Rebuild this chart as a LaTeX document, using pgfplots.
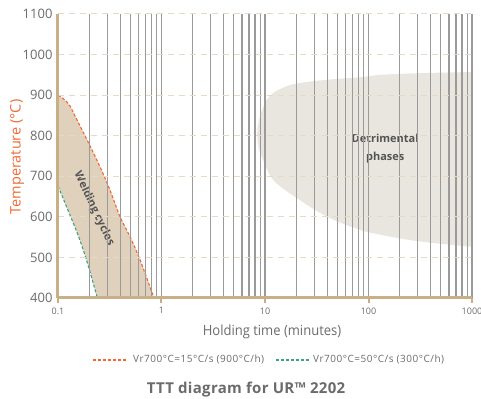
\documentclass[border=0pt]{standalone}
\usepackage{pgfplots}
\pgfplotsset{compat=1.18}
\usepgfplotslibrary{fillbetween}
\usepackage{fontspec}
\setmainfont{Open Sans}
\newfontfamily\condfont{Open Sans}[FakeStretch=0.93]
\newfontfamily\legfont{Open Sans}[LetterSpace=5]
\newfontfamily\titlefont{Open Sans}[LetterSpace=2]

\definecolor{axistan}{HTML}{C9AF85}
\definecolor{weldfill}{HTML}{E0D1BC}
\definecolor{detrfill}{HTML}{E8E6DF}
\definecolor{gridgray}{HTML}{9A9A9A}
\definecolor{gridbeige}{HTML}{E6DAC6}
\definecolor{hotline}{HTML}{F4662F}
\definecolor{coldline}{HTML}{3BA384}
\definecolor{txtgray}{HTML}{6B6B6B}
\definecolor{labgray}{HTML}{545454}
\definecolor{ylabcol}{HTML}{F06A35}

\pgfplotstableread{
t     T
0.1   900
0.114 890
0.1306 873
0.156 834
0.195 785
0.255 723
0.318 666
0.398 600
0.497 551
0.621 494
0.811 413
0.85  400
}\hotcurve
\pgfplotstableread{
t     T
0.1   676
0.153 561
0.191 489
0.24  400
}\coldcurve

\begin{document}
\begin{tikzpicture}
\begin{axis}[
  name=ax,
  scale only axis,
  width=414pt, height=284pt,
  xmode=log,
  xmin=0.1, xmax=1000,
  ymin=400, ymax=1100,
  axis lines*=left,
  axis line style={axistan, line width=3pt},
  axis on top,
  xtick={0.1,1,10,100,1000},
  xticklabels={0.1,1,10,100,1000},
  minor xtick={0.2,0.3,0.4,0.5,0.6,0.7,0.8,0.9,2,3,4,5,6,7,8,9,20,30,40,50,60,70,80,90,200,300,400,500,600,700,800,900},
  ytick={400,500,600,700,800,900,1000,1100},
  yticklabels={400,500,600,700,800,900,1000,1100},
  xmajorgrids, xminorgrids, ymajorgrids,
  major x grid style={gridgray, line width=1.1pt},
  minor x grid style={gridgray, line width=1.1pt},
  major y grid style={gridbeige, line width=1pt, dash pattern=on 6pt off 5pt},
  tick align=outside,
  major tick length=5pt,
  minor tick length=0pt,
  x tick style={axistan, line width=2pt},
  y tick style={draw=none},
  xticklabel style={font=\fontsize{9}{10}\selectfont, text=txtgray, yshift=-1pt},
  yticklabel style={font=\fontsize{13}{14}\selectfont, text=txtgray, xshift=3pt},
]
% phase field at long holding times
\addplot[fill=detrfill, draw=none, smooth, tension=0.6] coordinates {
  (1000,957) (300,954) (130,950) (83,944) (40,938) (19.6,928) (14,915)
  (12,905) (10.5,890) (9.62,871) (8.8,840) (8.41,807) (8.7,770) (9.62,740)
  (12,691) (19.6,649) (40,600) (83,568) (130,556) (300,540) (1000,526)
} -- cycle;

% welding band between the two cooling curves
\addplot[name path=hot, draw=none, smooth] table[x=t, y=T] {\hotcurve};
\addplot[name path=cold, draw=none, smooth] table[x=t, y=T] {\coldcurve};
\addplot[fill=weldfill, draw=none] fill between[of=hot and cold];

\addplot[draw=hotline, line width=1.1pt, dash pattern=on 3pt off 2pt, smooth] table[x=t, y=T] {\hotcurve};
\addplot[draw=coldline, line width=1.1pt, dash pattern=on 3pt off 2pt, smooth] table[x=t, y=T] {\coldcurve};

\coordinate (weldlab) at (axis cs:0.223,620);
\coordinate (detrlab) at (axis cs:145,767);
\end{axis}

\node[rotate=-64.5, text=labgray, font=\bfseries\fontsize{11}{12}\selectfont] at (weldlab) {Welding cycles};
\node[align=center, text=labgray, font=\bfseries\fontsize{11}{18}\selectfont] at (detrlab) {Detrimental\\phases};

% key for the two cooling rates
\draw[hotline, line width=1.1pt, dash pattern=on 3pt off 2pt] ([shift={(35pt,-62pt)}]ax.south west) -- ++(34pt,0pt);
\node[anchor=west, inner sep=0pt, text=txtgray, font=\legfont\fontsize{10}{11}\selectfont] at ([shift={(75pt,-62pt)}]ax.south west) {Vr700°C=15°C/s (900°C/h)};
\draw[coldline, line width=1.1pt, dash pattern=on 3pt off 2pt] ([shift={(218pt,-62pt)}]ax.south west) -- ++(34pt,0pt);
\node[anchor=west, inner sep=0pt, text=txtgray, font=\legfont\fontsize{10}{11}\selectfont] at ([shift={(255pt,-62pt)}]ax.south west) {Vr700°C=50°C/s (300°C/h)};

\node[text=txtgray, font=\condfont\fontsize{14}{16}\selectfont] at ([shift={(214pt,-34pt)}]ax.south west) {Holding time (minutes)};
\node[rotate=90, text=ylabcol, font=\fontsize{14.5}{16}\selectfont] at ([shift={(-41pt,141pt)}]ax.south west) {Temperature (°C)};
\node[text=txtgray, font=\titlefont\bfseries\fontsize{15}{17}\selectfont] at ([shift={(188pt,-92pt)}]ax.south west) {TTT diagram for UR™ 2202};

\pgfresetboundingbox
\path ([shift={(-58pt,-101pt)}]ax.south west) rectangle ([shift={(9pt,14pt)}]ax.north east);
\end{tikzpicture}
\end{document}
